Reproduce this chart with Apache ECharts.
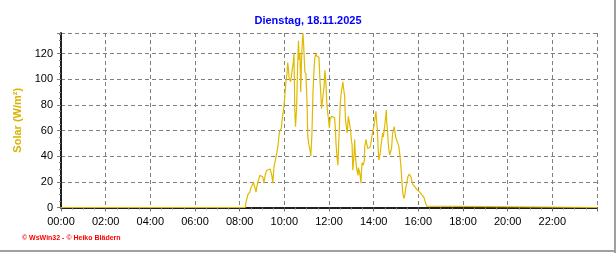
<!DOCTYPE html>
<html>
<head>
<meta charset="utf-8">
<script src="https://cdn.jsdelivr.net/npm/echarts@6/dist/echarts.min.js"></script>
<style>
html,body{margin:0;padding:0;background:#fff;}
#chart{width:616px;height:253px;}
</style>
</head>
<body>
<div id="chart"></div>
<script>
// Time of day (HH:MM) and solar radiation values (W/m²)
var times = [
"00:00","08:15","08:17","08:22","08:27","08:31","08:35","08:37","08:40","08:44","08:46","08:51","08:54","08:58",
"09:02","09:05","09:09","09:13","09:18","09:22","09:27","09:29","09:32","09:36","09:38","09:42","09:45","09:47","09:52","09:55","09:58",
"10:01","10:04","10:07","10:09","10:11","10:13","10:17","10:20","10:21","10:24","10:26","10:28","10:30","10:33","10:36","10:38","10:40","10:42","10:44","10:46","10:48","10:50","10:52","10:54","10:55","10:58",
"11:01","11:03","11:06","11:09","11:11","11:14","11:17","11:20","11:22","11:25","11:27","11:29","11:33","11:36","11:38","11:40","11:42","11:45","11:47","11:49","11:51","11:54","11:56","11:59",
"12:01","12:03","12:07","12:10","12:12","12:15","12:17","12:19","12:22","12:24","12:26","12:28","12:30","12:33","12:36","12:37","12:40","12:42","12:44","12:46","12:49","12:52","12:54","12:56","12:58",
"13:00","13:02","13:04","13:07","13:09","13:10","13:12","13:15","13:18","13:19","13:22","13:24","13:26","13:27","13:29","13:32","13:35","13:36","13:39","13:42","13:44","13:47","13:50","13:53","13:55","13:58",
"14:01","14:03","14:06","14:09","14:10","14:12","14:14","14:16","14:18","14:20","14:22","14:24","14:26","14:29","14:32","14:34","14:35","14:37","14:40","14:43","14:45","14:48","14:51","14:53","14:55","14:57",
"15:00","15:02","15:05","15:08","15:10","15:13","15:16","15:18","15:21","15:24","15:26","15:29","15:32","15:35","15:37","15:40","15:43","15:45","15:48","15:51","15:53","15:56","15:59",
"16:01","16:04","16:07","16:09","16:12","16:15","16:17","16:20","16:23","16:26","24:00"
];
var solar = [
0,0,4,10,12,16,18,20,21,12,16,22,25,26,
24,19,26,29,30,30,24,19,31,37,40,46,54,59,62,71,76,
86,97,104,113,108,101,98,97,107,113,120,77,63,78,113,130,115,120,90,113,127,136,126,113,106,104,
81,55,49,45,40,56,90,109,117,120,118,118,117,98,89,77,82,90,95,107,101,82,75,68,
62,69,71,71,70,70,62,49,38,33,49,63,80,90,95,98,91,87,70,64,58,71,70,64,60,
53,49,29,40,53,45,36,29,25,31,28,24,19,27,35,33,37,47,53,49,46,45,47,51,55,60,
64,68,75,76,60,46,37,40,43,49,53,58,55,62,70,76,67,60,47,41,40,46,58,60,63,59,
54,54,50,47,42,33,20,12,7,10,15,19,24,26,26,24,20,18,17,16,15,14,13,
14,12,11,10,9,8,6,3,1,0,0
];
var xTickLabels = ["00:00","02:00","04:00","06:00","08:00","10:00","12:00","14:00","16:00","18:00","20:00","22:00"];
var yTicks = [0,20,40,60,80,100,120];

function toMin(t){var p=t.split(":");return (+p[0])*60+(+p[1]);}
var seriesData = times.map(function(t,i){return [toMin(t), solar[i]];});

var FONT = "'Liberation Sans', Arial, sans-serif";
var chart = echarts.init(document.getElementById('chart'), null, {renderer:'canvas'});
chart.setOption({
  animation:false,
  backgroundColor:'#ffffff',
  title:{
    text:'Dienstag, 18.11.2025',
    left:'center', top:10,
    textStyle:{color:'#0000FF', fontSize:11, fontWeight:'bold', fontFamily:FONT}
  },
  grid:{left:61, right:19, top:33, bottom:45.5, containLabel:false},
  xAxis:[{
    type:'value', min:0, max:1440, interval:120,
    axisLine:{show:true, lineStyle:{color:'#808080', width:2}},
    axisTick:{show:true, length:4, lineStyle:{color:'#808080'}},
    minorTick:{show:true, splitNumber:4, length:2, lineStyle:{color:'#808080'}},
    axisLabel:{color:'#000', fontSize:11, fontFamily:FONT, margin:9,
      showMaxLabel:false,
      formatter:function(v){var i=Math.round(v/120);return (v%120===0 && i<xTickLabels.length)?xTickLabels[i]:'';}},
    splitLine:{show:true, lineStyle:{color:'#808080', type:[4,3], width:1}}
  },{
    type:'value', min:0, max:1440, interval:120, position:'top',
    axisLine:{show:true, lineStyle:{color:'#000', width:1.5}},
    axisTick:{show:true, inside:true, length:3, lineStyle:{color:'#606060'}},
    axisLabel:{show:false}, splitLine:{show:false}
  }],
  yAxis:[{
    type:'value', min:0, max:136, interval:20,
    name:'Solar (W/m²)', nameLocation:'middle', nameGap:28, nameRotate:90,
    nameTextStyle:{color:'#D8B400', fontSize:11, fontWeight:'bold', fontFamily:FONT},
    axisLine:{show:true, lineStyle:{color:'#808080', width:2}},
    axisTick:{show:true, length:4, lineStyle:{color:'#808080'}},
    minorTick:{show:true, splitNumber:4, length:2, lineStyle:{color:'#808080'}},
    axisLabel:{color:'#000', fontSize:11, fontFamily:FONT, margin:8, showMaxLabel:false,
      formatter:function(v){return yTicks.indexOf(v)>=0?String(v):'';}},
    splitLine:{show:true, lineStyle:{color:'#808080', type:[4,3], width:1}}
  },{
    type:'value', min:0, max:136, interval:20, position:'right',
    axisLine:{show:true, lineStyle:{color:'#000', width:1.5}},
    axisTick:{show:false}, axisLabel:{show:false}, splitLine:{show:false}
  }],
  series:[{
    type:'line', xAxisIndex:0, yAxisIndex:0,
    data:seriesData, showSymbol:false, symbol:'none', clip:false,
    lineStyle:{color:'#E0BA00', width:1.2},
    zlevel:1, z:5
  }],
  graphic:[
    {type:'line', shape:{x1:615, y1:0, x2:615, y2:253}, style:{stroke:'#A0A0A0', lineWidth:2}},
    {type:'line', shape:{x1:0, y1:251, x2:616, y2:251}, style:{stroke:'#A0A0A0', lineWidth:2}},
    {type:'text', left:22, top:235, style:{text:'© WsWin32 - © Heiko Blädern', fill:'#FF0000', font:'bold 7px ' + FONT}}
  ]
});
</script>
</body>
</html>
